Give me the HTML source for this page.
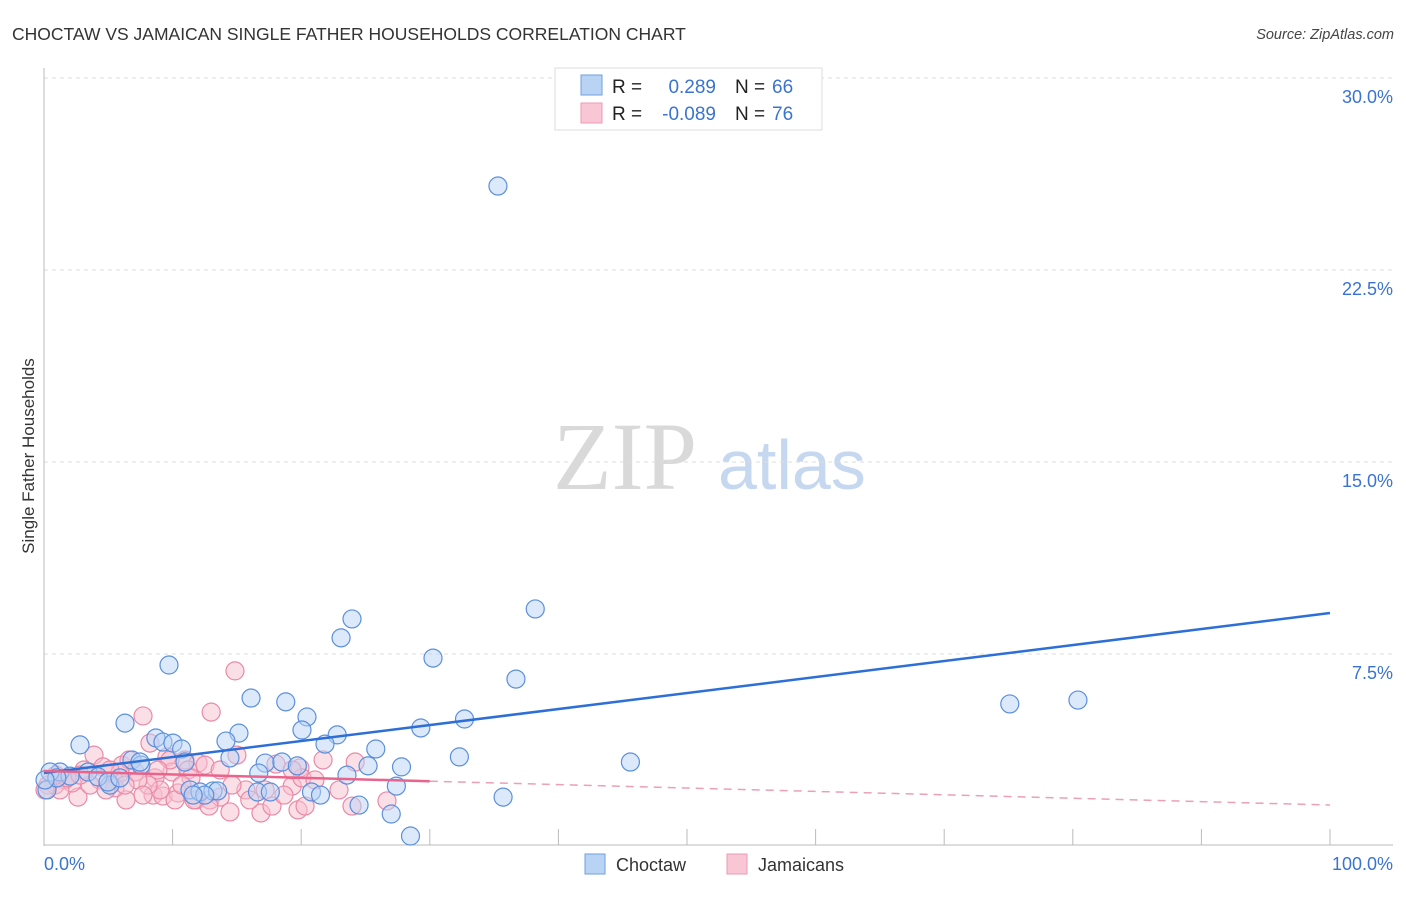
<!DOCTYPE html>
<html><head><meta charset="utf-8"><style>
body{margin:0;background:#fff;font-family:"Liberation Sans",sans-serif}
svg text{font-family:"Liberation Sans",sans-serif}
</style></head><body>
<svg id="chart" width="1406" height="892" viewBox="0 0 1406 892" xmlns="http://www.w3.org/2000/svg">
<text x="12" y="40" font-size="17.5" fill="#333">CHOCTAW VS JAMAICAN SINGLE FATHER HOUSEHOLDS CORRELATION CHART</text>
<text x="1394" y="39" font-size="14.5" fill="#444" text-anchor="end" font-style="italic">Source: ZipAtlas.com</text>
<g>
<text x="553" y="489" font-size="96" fill="#d9d9d9" font-family="Liberation Serif" style="font-family:'Liberation Serif',serif">ZIP</text>
<text x="718" y="489" font-size="70" fill="#c6d8f0">atlas</text>
</g>
<g id="grid"></g>
<g id="axes"></g>
<g id="pts-pink"></g>
<g id="pts-blue"></g>
<g id="trends"></g>
<text transform="translate(34,456) rotate(-90)" font-size="17" fill="#333" text-anchor="middle">Single Father Households</text>
<g>
<rect x="555" y="68" width="267" height="62" fill="#fff" stroke="#ddd"/>
<rect x="581" y="75" width="21" height="20" fill="#b9d3f5" stroke="#6e9fe0"/>
<rect x="581" y="103" width="21" height="20" fill="#f9c6d5" stroke="#ec9ab3"/>
<text x="612" y="93" font-size="19" fill="#222">R =</text>
<text x="716" y="93" font-size="19" fill="#3a73d1" text-anchor="end">0.289</text>
<text x="735" y="93" font-size="19" fill="#222">N =</text>
<text x="772" y="93" font-size="19" fill="#3a73d1">66</text>
<text x="612" y="120" font-size="19" fill="#222">R =</text>
<text x="716" y="120" font-size="19" fill="#3a73d1" text-anchor="end">-0.089</text>
<text x="735" y="120" font-size="19" fill="#222">N =</text>
<text x="772" y="120" font-size="19" fill="#3a73d1">76</text>
</g>
<g>
<rect x="585" y="854" width="20" height="20" fill="#b9d3f5" stroke="#6e9fe0"/>
<text x="616" y="871" font-size="18" fill="#333">Choctaw</text>
<rect x="727" y="854" width="20" height="20" fill="#f9c6d5" stroke="#ec9ab3"/>
<text x="758" y="871" font-size="18" fill="#333">Jamaicans</text>
</g>
</svg>
<script>
const yTicks=[7.5,15,22.5,30];
const yTickLabels=["7.5%","15.0%","22.5%","30.0%"];
const xTickLabels=["0.0%","100.0%"];
const blueX=[35.3,38.2,23.95,23.1,30.25,9.72,36.7,16.1,18.8,75.1,80.4,20.45,6.3,20.06,32.7,29.3,15.16,22.8,2.8,8.7,9.25,10.03,10.7,14.15,21.85,25.8,32.3,45.6,6.84,7.54,14.46,17.2,18.5,19.7,25.2,27.8,16.7,23.56,27.4,16.6,17.6,20.8,21.5,24.5,27.0,28.5,35.7,11.35,12.13,13.14,13.5,5.13,3.42,4.2,1.24,0.47,2.02,4.98,0.23,1.0,5.9,12.5,11.6,10.96,7.46,0.08];
const blueY=[25.78,9.26,8.87,8.13,7.34,7.07,6.52,5.78,5.63,5.55,5.7,5.04,4.8,4.53,4.96,4.61,4.41,4.34,3.95,4.22,4.06,4.02,3.79,4.1,3.98,3.79,3.48,3.28,3.36,3.16,3.44,3.24,3.28,3.13,3.13,3.09,2.85,2.77,2.34,2.11,2.11,2.11,1.99,1.6,1.25,0.39,1.91,2.19,2.11,2.15,2.15,2.38,2.89,2.7,2.89,2.89,2.73,2.5,2.19,2.66,2.66,1.99,1.99,3.28,3.28,2.58];
const pinkX=[14.85,13.0,7.7,3.89,8.24,6.07,4.59,10.96,11.98,6.61,21.7,24.2,19.9,15.0,9.56,7.08,8.63,9.95,11.2,11.43,5.44,3.11,1.63,0.86,2.64,6.38,8.48,9.25,10.42,11.82,12.9,13.7,15.7,17.2,19.3,20.06,22.94,9.02,8.09,5.9,4.35,3.58,2.18,1.24,0.31,0.08,14.46,16.87,17.73,19.75,20.3,23.95,26.67,12.83,11.66,5.52,9.8,12.52,18.04,19.3,0.93,1.79,2.8,5.13,7.3,7.7,10.19,16.0,10.73,14.62,21.07,4.82,6.3,18.66,13.7,8.86];
const pinkY=[6.84,5.23,5.08,3.55,4.02,3.16,3.09,3.36,3.24,3.36,3.36,3.28,3.05,3.55,3.48,2.89,2.66,2.89,2.97,2.66,2.58,2.97,2.58,2.38,1.91,1.8,1.99,1.95,2.07,1.8,1.8,1.91,2.19,2.19,2.34,2.66,2.19,2.19,2.38,2.85,2.58,2.38,2.46,2.19,2.38,2.19,1.33,1.29,1.56,1.41,1.56,1.56,1.76,1.56,1.8,2.27,3.36,3.16,3.2,2.97,2.77,2.66,2.77,2.97,2.58,1.99,1.8,1.8,2.38,2.38,2.58,2.19,2.38,1.99,2.97,2.97];
const blueTrend=[2.85,9.1];
const pinkTrend=[2.93,1.6];
const pinkSolidEnd=30;

const NS="http://www.w3.org/2000/svg";
const X0=44,X1=1330,Y0=846,PPY=25.6;
const sx=v=>X0+(X1-X0)*v/100;
const sy=v=>Y0-v*PPY;
function mk(tag,attrs,parent){const e=document.createElementNS(NS,tag);for(const k in attrs)e.setAttribute(k,attrs[k]);parent.appendChild(e);return e;}
const grid=document.getElementById('grid'),axes=document.getElementById('axes');
yTicks.forEach((t,i)=>{
  const l=mk('line',{x1:X0,x2:1393,y1:sy(t),y2:sy(t),stroke:'#ddd','stroke-dasharray':'4,4'},grid);
  
  
  const tx=mk('text',{x:1393,y:sy(t)+25,'font-size':18,fill:'#3a73d1','text-anchor':'end'},axes);
  tx.textContent=yTickLabels[i];
  
  
});
mk('line',{x1:X0,x2:X0,y1:68,y2:846,stroke:'#bbb'},axes);
mk('line',{x1:X0,x2:1393,y1:845,y2:845,stroke:'#bbb'},axes);
for(let i=1;i<=10;i++){const x=sx(i*10);mk('line',{x1:x,x2:x,y1:829,y2:845,stroke:'#bbb'},axes);}
const xl0=mk('text',{x:44,y:870,'font-size':18,fill:'#3a73d1'},axes);xl0.textContent=xTickLabels[0];


const xl1=mk('text',{x:1393,y:870,'font-size':18,fill:'#3a73d1','text-anchor':'end'},axes);xl1.textContent=xTickLabels[1];


function pts(xs,ys,g,fill,stroke,name){xs.forEach((v,i)=>{
  const c=mk('circle',{cx:sx(v),cy:sy(ys[i]),r:9,fill:fill,'fill-opacity':0.5,stroke:stroke,'stroke-width':1.2},g);
  
  
});}
pts(pinkX,pinkY,document.getElementById('pts-pink'),'#f7bfd0','#e98aa8','jamaicans-point');
pts(blueX,blueY,document.getElementById('pts-blue'),'#b9d3f5','#5b8fdc','choctaw-point');
const tr=document.getElementById('trends');
const bl=mk('line',{x1:sx(0),y1:sy(blueTrend[0]),x2:sx(100),y2:sy(blueTrend[1]),stroke:'#2d6fd6','stroke-width':2.5},tr);


const pv=x=>pinkTrend[0]+(pinkTrend[1]-pinkTrend[0])*x/100;
const ps=mk('line',{x1:sx(0),y1:sy(pv(0)),x2:sx(pinkSolidEnd),y2:sy(pv(pinkSolidEnd)),stroke:'#e8648c','stroke-width':2.5},tr);


const pd=mk('line',{x1:sx(pinkSolidEnd),y1:sy(pv(pinkSolidEnd)),x2:sx(100),y2:sy(pv(100)),stroke:'#eba0b6','stroke-width':1.5,'stroke-dasharray':'8,6'},tr);


</script>
</body></html>
